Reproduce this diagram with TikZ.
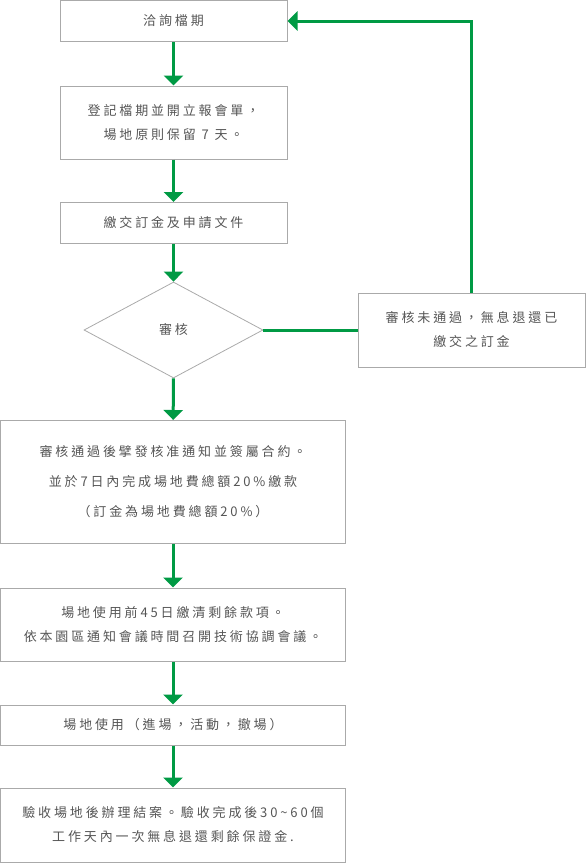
\documentclass[tikz,border=0pt]{standalone}
\usepackage{fontspec}
\newfontfamily\cjk[Script=CJK, Language=Chinese Traditional, LetterSpace=22]{Noto Sans CJK TC}
\usetikzlibrary{arrows.meta,shapes.geometric}
\definecolor{flowgreen}{RGB}{0,154,68}
\definecolor{boxgray}{RGB}{170,170,170}
\definecolor{textgray}{RGB}{85,85,85}
\begin{document}
\begin{tikzpicture}[
  x=1pt,
  y=-1pt,
  line cap=butt,
  line join=miter,
  stepbox/.style={draw=boxgray, line width=1pt, inner sep=0pt,
    text=textgray, align=center, font=\cjk\fontsize{13}{24}\selectfont},
  narrowbox/.style={stepbox, minimum width=227pt},
  widebox/.style={stepbox, minimum width=345pt},
  flow/.style={draw=flowgreen, line width=3pt,
    -{Triangle[width=19pt,length=10pt]}},
  link/.style={draw=flowgreen, line width=3pt}
]
  \useasboundingbox (0,0) rectangle (586,863);

  % Verhnii ryad: zapros i registratsiya
  \node[narrowbox, minimum height=41pt] (ask) at (173.5,21) {洽詢檔期};
  \node[narrowbox, minimum height=73pt] (book) at (173.5,122.5)
    {登記檔期並開立報會單，\\場地原則保留 7 天。};
  \node[narrowbox, minimum height=41pt] (deposit) at (173.5,223) {繳交訂金及申請文件};

  % Proverka
  \node[diamond, draw=boxgray, line width=0.8pt, inner sep=0pt, aspect=1.86,
    minimum width=179pt, minimum height=96pt, text=textgray,
    font=\cjk\fontsize{13}{24}\selectfont] (review) at (173.5,330) {審核};
  \node[narrowbox, minimum height=74pt] (reject) at (471.5,330)
    {審核未通過，無息退還已\\繳交之訂金};

  % Nizhnii ryad: dogovor i ispolzovanie
  \node[widebox, minimum height=123pt,
    font=\cjk\fontsize{13}{30}\selectfont] (contract) at (173,482)
    {審核通過後擘發核准通知並簽屬合約。\\並於7日內完成場地費總額20\%繳款\\（訂金為場地費總額20\%）};
  \node[widebox, minimum height=73pt] (payoff) at (173,624.5)
    {場地使用前45日繳清剩餘款項。\\依本園區通知會議時間召開技術協調會議。};
  \node[widebox, minimum height=40pt] (use) at (173,725)
    {場地使用（進場，活動，撤場）};
  \node[widebox, minimum height=74pt] (close) at (173,825)
    {驗收場地後辦理結案。驗收完成後30\textasciitilde60個\\工作天內一次無息退還剩餘保證金.};

  % Strelki
  \draw[flow] (ask) -- (book);
  \draw[flow] (book) -- (deposit);
  \draw[flow] (deposit) -- (review);
  \draw[flow] (review) -- (contract);
  \draw[flow] (contract) -- (payoff);
  \draw[flow] (payoff) -- (use);
  \draw[flow] (use) -- (close);

  % Vozvrat pri otkaze
  \draw[link] (review.east) -- (reject.west);
  \draw[flow] (reject.north) |- (ask.east);
\end{tikzpicture}
\end{document}
